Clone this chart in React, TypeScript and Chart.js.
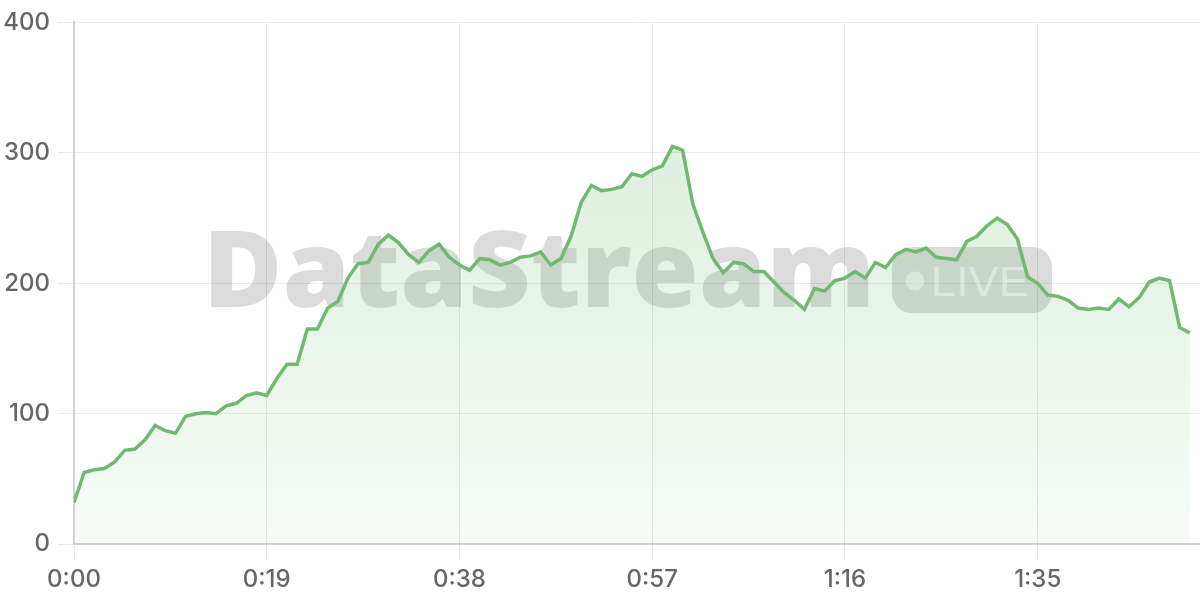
import React, { useEffect, useRef } from "react";
import { Chart, registerables } from "chart.js";

Chart.register(...registerables);

// Throughput values, one per second (0:00 .. 1:50)
const values: number[] = [
  32, 55, 57, 58, 63, 72, 73, 80, 91, 87,
  85, 98, 100, 101, 100, 106, 108, 114, 116, 114,
  127, 138, 138, 165, 165, 181, 186, 204, 215, 216,
  230, 237, 231, 222, 216, 225, 230, 220, 214, 210,
  219, 218, 214, 216, 220, 221, 224, 214, 219, 236,
  262, 275, 271, 272, 274, 284, 282, 287, 290, 305,
  302, 261, 239, 219, 208, 216, 215, 209, 209, 201,
  193, 187, 180, 196, 194, 202, 204, 209, 204, 216,
  212, 222, 226, 224, 227, 220, 219, 218, 232, 236,
  244, 250, 245, 234, 205, 200, 191, 190, 187, 181,
  180, 181, 180, 188, 182, 189, 201, 204, 202, 166,
  162,
];
// Time in seconds for each sample
const seconds: number[] = values.map((_, i) => i);
const xTickStep = 19;
const yTicks: number[] = [0, 100, 200, 300, 400];
const watermarkText = "DataStream";
const badgeText = "LIVE";

const fmtTime = (s: number) => {
  const m = Math.floor(s / 60);
  const r = Math.round(s % 60);
  return `${m}:${r < 10 ? "0" : ""}${r}`;
};

const watermarkPlugin = {
  id: "watermark",
  beforeDatasetsDraw(chart: any) {
    const ctx: CanvasRenderingContext2D = chart.ctx;
    ctx.save();
    ctx.fillStyle = "rgba(0,0,0,0.14)";
    ctx.font = '800 106px "Open Sans"';
    ctx.textBaseline = "alphabetic";
    ctx.textAlign = "left";
    const m = ctx.measureText(watermarkText);
    const w = m.actualBoundingBoxRight + m.actualBoundingBoxLeft;
    const target = 658;
    ctx.translate(211, 307);
    ctx.scale(target / w, 1);
    ctx.fillText(watermarkText, m.actualBoundingBoxLeft, 0);
    ctx.restore();

    // badge
    ctx.save();
    ctx.fillStyle = "rgba(0,0,0,0.14)";
    const bx = 892, by = 247, bw = 160, bh = 66, r = 20;
    ctx.beginPath();
    ctx.moveTo(bx + r, by);
    ctx.lineTo(bx + bw - r, by);
    ctx.arcTo(bx + bw, by, bx + bw, by + r, r);
    ctx.lineTo(bx + bw, by + bh - r);
    ctx.arcTo(bx + bw, by + bh, bx + bw - r, by + bh, r);
    ctx.lineTo(bx + r, by + bh);
    ctx.arcTo(bx, by + bh, bx, by + bh - r, r);
    ctx.lineTo(bx, by + r);
    ctx.arcTo(bx, by, bx + r, by, r);
    ctx.closePath();
    ctx.fill();
    ctx.fillStyle = "rgba(255,255,255,0.6)";
    ctx.beginPath();
    ctx.arc(915, 281, 9.5, 0, Math.PI * 2);
    ctx.fill();
    ctx.font = '43px "Liberation Sans"';
    const lm = ctx.measureText(badgeText);
    const lw = lm.actualBoundingBoxRight + lm.actualBoundingBoxLeft;
    ctx.translate(934, 296);
    ctx.scale(93 / lw, 1);
    ctx.fillText(badgeText, lm.actualBoundingBoxLeft, 0);
    ctx.restore();
  },
};

export default function App() {
  const ref = useRef<HTMLCanvasElement | null>(null);
  useEffect(() => {
    if (!ref.current) return;
    const chart = new Chart(ref.current, {
      type: "line",
      data: {
        labels: seconds,
        datasets: [
          {
            data: values,
            borderColor: "rgb(112,186,112)",
            borderWidth: 3.5,
            pointRadius: 0,
            tension: 0,
            fill: "origin",
            backgroundColor: (c: any) => {
              const { chart } = c;
              const area = chart.chartArea;
              if (!area) return "rgba(112,186,112,0.15)";
              const g = chart.ctx.createLinearGradient(0, area.top, 0, area.bottom);
              g.addColorStop(0, "rgba(112,186,112,0.28)");
              g.addColorStop(1, "rgba(112,186,112,0.06)");
              return g;
            },
          },
        ],
      },
      options: {
        animation: false,
        responsive: false,
        layout: { padding: { left: 0, top: 20, right: 0, bottom: 0 } },
        plugins: { legend: { display: false }, tooltip: { enabled: false } },
        scales: {
          x: {
            type: "linear",
            min: 0,
            max: 111,
            afterBuildTicks: (scale: any) => {
              const t: any[] = [];
              for (let v = 0; v <= 110; v += xTickStep) t.push({ value: v });
              scale.ticks = t;
            },
            ticks: {
              callback: (v: any) => fmtTime(Number(v)),
              color: "#666",
              font: { family: "Inter", size: 24, weight: "500" },
              padding: 6,
              maxRotation: 0,
              autoSkip: false,
            },
            grid: { color: "#e8e8e8", lineWidth: 1, tickLength: 15 },
            border: { color: "#d2d2d2", width: 2 },
          },
          y: {
            min: 0,
            max: 400,
            afterBuildTicks: (scale: any) => {
              scale.ticks = yTicks.map((v) => ({ value: v }));
            },
            afterFit: (scale: any) => {
              scale.width = 74;
            },
            ticks: {
              color: "#666",
              font: { family: "Inter", size: 24, weight: "500" },
              padding: 8,
            },
            grid: { color: "#ebebeb", lineWidth: 1, tickLength: 16 },
            border: { color: "#d2d2d2", width: 2 },
          },
        },
      },
      plugins: [watermarkPlugin],
    } as any);
    return () => chart.destroy();
  }, []);
  return (
    <div style={{ position: "fixed", left: 0, top: 0, width: 1200, height: 600, background: "#fff" }}>
      <canvas ref={ref} width={1200} height={600} />
    </div>
  );
}
